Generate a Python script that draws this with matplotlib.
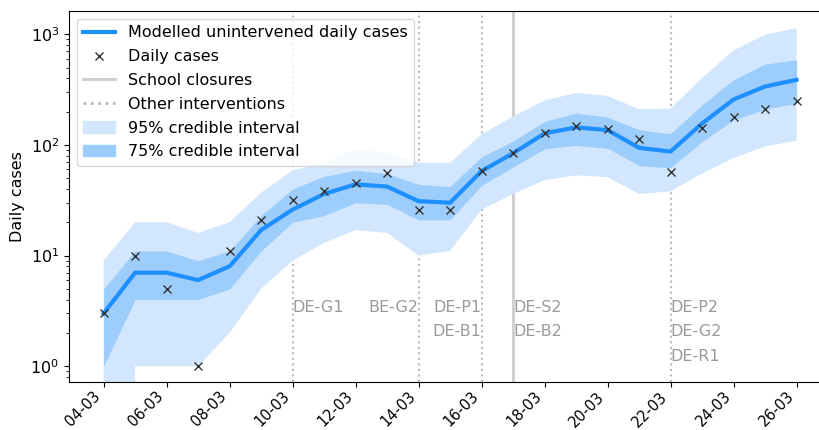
import numpy as np
import pandas as pd
import matplotlib
matplotlib.use('Agg')
import matplotlib.pyplot as plt
import matplotlib.dates as mdates
from matplotlib.patches import Patch
from matplotlib.lines import Line2D

# 데이터 (04-03 ~ 26-03)
dates = pd.date_range('2020-03-04', '2020-03-26', freq='D')
observed = [3, 10, 5, 1, 11, 21, 32, 38, 45, 56, 26, 26, 58, 84, 127, 148, 140, 112, 57, 141, 178, 210, 250]
median = [3, 7, 7, 6, 8, 17, 26, 36, 44, 42, 31, 30, 58, 84, 127, 144, 136, 94, 87, 156, 257, 337, 387]
lo75 = [1, 4, 4, 4, 5, 11, 20, 23, 30, 29, 21, 21, 43, 63, 92, 99, 93, 65, 62, 107, 168, 210, 238]
hi75 = [5, 11, 11, 9, 11, 23, 40, 52, 59, 55, 44, 42, 78, 108, 163, 194, 178, 137, 126, 230, 387, 537, 588]
lo95 = [0, 1, 1, 1, 2, 5, 9, 13, 17, 16, 10, 11, 26, 36, 48, 53, 51, 36, 38, 55, 76, 97, 109]
hi95 = [9, 20, 20, 16, 20, 37, 59, 68, 91, 85, 69, 69, 125, 180, 252, 294, 277, 210, 213, 402, 714, 990, 1138]

# 개입 시점
school_date = pd.Timestamp('2020-03-17')
other_dates = pd.to_datetime(['2020-03-10', '2020-03-14', '2020-03-16', '2020-03-22'])
labels = [
    ('2020-03-10', ['DE-G1'], 'left'),
    ('2020-03-14', ['BE-G2'], 'right'),
    ('2020-03-16', ['DE-P1', 'DE-B1'], 'right'),
    ('2020-03-17', ['DE-S2', 'DE-B2'], 'left'),
    ('2020-03-22', ['DE-P2', 'DE-G2', 'DE-R1'], 'left'),
]

light = '#d2e7fd'
dark = '#9dcdfb'
line_c = '#1e8fff'
fs = 11.5

fig = plt.figure(figsize=(8.19, 4.30), dpi=100)
ax = fig.add_axes([0.0842, 0.1116, 0.9307, 0.8628])

ax.fill_between(dates, lo95, hi95, color=light, lw=0)
ax.fill_between(dates, lo75, hi75, color=dark, lw=0)
ax.plot(dates, median, color=line_c, lw=3)
ax.plot(dates, observed, 'x', color='#333333', ms=6, mew=1)

for d in other_dates:
    ax.axvline(d, color='#bbbbbb', ls=':', lw=1.5, zorder=0.5)
ax.axvline(school_date, color='#cccccc', ls='-', lw=2, zorder=0.5)

tr = ax.get_xaxis_transform()
for d, names, ha in labels:
    for i, name in enumerate(names):
        ax.text(pd.Timestamp(d), 0.202 - i * 0.067, name, transform=tr,
                ha=ha, va='center', color='#9a9a9a', fontsize=fs)

ax.set_yscale('log')
ax.set_ylim(0.72, 1620)
ax.set_ylabel('Daily cases', fontsize=fs)
ax.xaxis.set_major_locator(mdates.DayLocator(bymonthday=range(4, 27, 2)))
ax.xaxis.set_major_formatter(mdates.DateFormatter('%d-%m'))
ax.tick_params(axis='x', pad=1.5)
plt.setp(ax.get_xticklabels(), rotation=45, ha='right', fontsize=10.5)
plt.setp(ax.get_yticklabels(), fontsize=fs)

handles = [
    Line2D([], [], color=line_c, lw=3),
    Line2D([], [], ls='', marker='x', color='#333333', ms=6),
    Line2D([], [], color='#cccccc', lw=2),
    Line2D([], [], color='#bbbbbb', ls=':', lw=2),
    Patch(color=light),
    Patch(color=dark),
]
names = ['Modelled unintervened daily cases', 'Daily cases', 'School closures',
         'Other interventions', '95% credible interval', '75% credible interval']
ax.legend(handles, names, loc='upper left', fontsize=fs, labelspacing=0.55)

fig.savefig('out.png', dpi=100)
